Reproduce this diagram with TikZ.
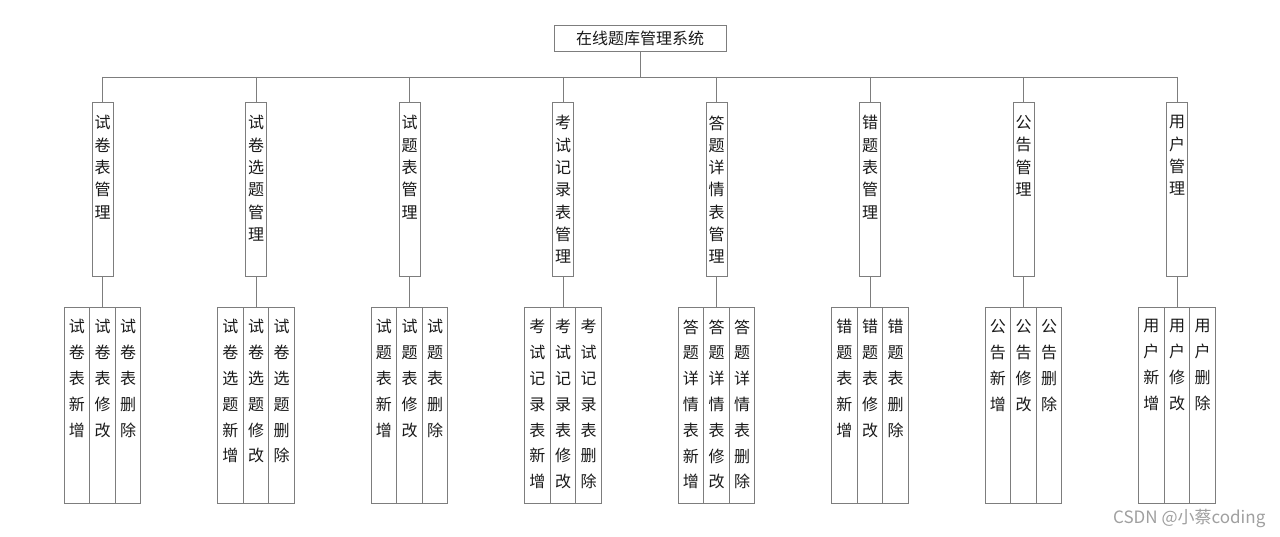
\documentclass[tikz,border=0pt]{standalone}
\usepackage{fontspec}
\newfontfamily\cjk{Noto Sans CJK SC}
\definecolor{linec}{RGB}{125,125,125}
\definecolor{txtc}{RGB}{25,25,25}
\definecolor{wmc}{RGB}{160,160,160}
\tikzset{
  topbox/.style={draw=linec, line width=0.9pt, minimum width=172pt, minimum height=26pt, inner sep=0pt, text=txtc, font=\cjk\fontsize{16}{20}\selectfont},
  midbox/.style={draw=linec, line width=0.9pt, minimum width=21pt, minimum height=174.4pt, inner sep=0pt},
  leafbox/.style={draw=linec, line width=0.9pt, minimum width=25.6pt, minimum height=196pt, inner sep=0pt},
  vtext/.style={anchor=north, align=center, inner sep=0pt, text=txtc, font=\cjk\fontsize{16}{25.8}\selectfont},
  mtext/.style={vtext, font=\cjk\fontsize{16}{22.3}\selectfont},
  conn/.style={draw=linec, line width=0.9pt},
  wm/.style={text=wmc, inner sep=0pt, font=\cjk\fontsize{17}{20}\selectfont}
}
\begin{document}
\begin{tikzpicture}[x=1pt,y=-1pt]
\useasboundingbox[fill=white] (0,0) rectangle (1280,537);
\node[topbox] (root) at (640,38) {在线题库管理系统};
\foreach \i/\m/\a/\b/\c in {
  1/{试\\卷\\表\\管\\理}/{试\\卷\\表\\新\\增}/{试\\卷\\表\\修\\改}/{试\\卷\\表\\删\\除},
  2/{试\\卷\\选\\题\\管\\理}/{试\\卷\\选\\题\\新\\增}/{试\\卷\\选\\题\\修\\改}/{试\\卷\\选\\题\\删\\除},
  3/{试\\题\\表\\管\\理}/{试\\题\\表\\新\\增}/{试\\题\\表\\修\\改}/{试\\题\\表\\删\\除},
  4/{考\\试\\记\\录\\表\\管\\理}/{考\\试\\记\\录\\表\\新\\增}/{考\\试\\记\\录\\表\\修\\改}/{考\\试\\记\\录\\表\\删\\除},
  5/{答\\题\\详\\情\\表\\管\\理}/{答\\题\\详\\情\\表\\新\\增}/{答\\题\\详\\情\\表\\修\\改}/{答\\题\\详\\情\\表\\删\\除},
  6/{错\\题\\表\\管\\理}/{错\\题\\表\\新\\增}/{错\\题\\表\\修\\改}/{错\\题\\表\\删\\除},
  7/{公\\告\\管\\理}/{公\\告\\新\\增}/{公\\告\\修\\改}/{公\\告\\删\\除},
  8/{用\\户\\管\\理}/{用\\户\\新\\增}/{用\\户\\修\\改}/{用\\户\\删\\除}}{
  \pgfmathsetmacro{\xc}{102.5+153.5*(\i-1)}
  \coordinate (b\i) at (\xc,77);
  \node[midbox] (m\i) at (\xc,189.5) {};
  \node[mtext] (mt\i) at ([yshift=-13.5pt]m\i.north) {\m};
  \node[leafbox] (la\i) at (\xc-25.6,405.3) {};
  \node[leafbox] (lb\i) at (\xc,405.3) {};
  \node[leafbox] (lc\i) at (\xc+25.6,405.3) {};
  \node[vtext] (lat\i) at ([yshift=-12.5pt]la\i.north) {\a};
  \node[vtext] (lbt\i) at ([yshift=-12.5pt]lb\i.north) {\b};
  \node[vtext] (lct\i) at ([yshift=-12.5pt]lc\i.north) {\c};
  \draw[conn] (b\i) -- (m\i.north);
  \draw[conn] (m\i.south) -- (lb\i.north);
}
\draw[conn] (root.south) -- (root.south |- b1);
\draw[conn] (b1) -- (b8);
\node[wm, anchor=west] (wmk) at (1113,518) {CSDN @小蔡coding};
\end{tikzpicture}
\end{document}
